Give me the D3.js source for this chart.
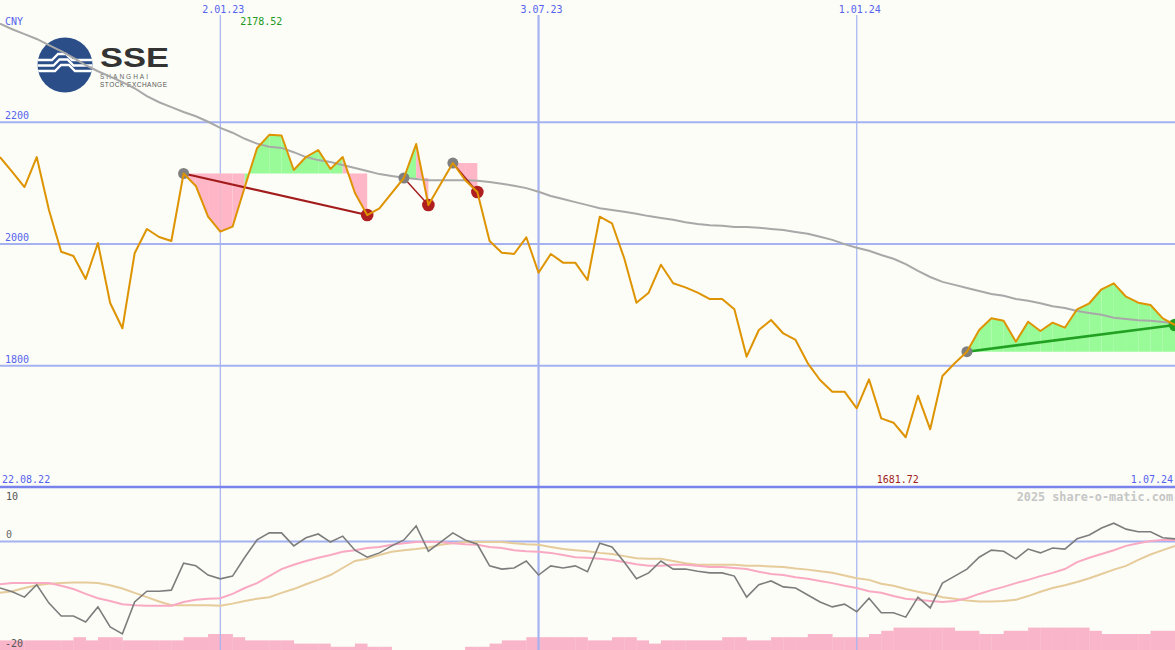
<!DOCTYPE html>
<html><head><meta charset="utf-8">
<script src="https://cdn.jsdelivr.net/npm/d3@7"></script>
<style>html,body{margin:0;padding:0;background:#fcfdf7;}svg{display:block}</style>
</head><body><svg id="c" width="1175" height="650"></svg>
<script>
// ---------- data ----------
const startDate = "2022-08-29";
const endDate = "2024-07-01";
const price = [2142,2117.5,2092.8,2142,2055,1986.5,1979.5,1941.7,2000.8,1902.3,
1860.7,1983.9,2023.8,2010.7,2004.1,2115,2094.5,2044,2019.4,2027.6,
2092.8,2156.4,2178.52,2177.4,2120.7,2142,2153.6,2122.4,2142,2082.9,
2046.8,2057.8,2082.9,2107.6,2163.4,2063.2,2097.7,2132.2,2104.3,2084.6,
2004.1,1984.9,1982.8,2010.2,1952,1982.8,1968.5,1968.5,1940,2044,
2033.2,1975.7,1902.8,1919.2,1965.2,1934.6,1928,1919.2,1908.8,1908.8,
1891.9,1814.1,1857.9,1874.3,1852.2,1841.5,1803.2,1775.8,1756.6,1756.6,
1729.3,1776.9,1712.8,1705.6,1681.72,1750,1694.8,1782.3,1803.2,1822.3,
1857.9,1877.1,1873.2,1838.7,1871.5,1856.3,1869.9,1861.7,1891.9,1901.8,
1924.8,1934.6,1912.6,1902.8,1899,1877.1,1866.1];
const movingAvg = [2361,2352,2344,2336,2326,2316,2305,2293,2283,2274,
2265,2255,2242,2232,2224,2216,2209,2200,2190,2182,
2172,2164,2159,2157,2150,2142,2137,2134,2129,2124,
2119,2114,2111,2108,2106,2104,2104,2104,2104,2103,
2101,2098,2095,2091,2085,2078,2073,2068,2063,2058,
2055,2052,2049,2045,2042,2039,2035,2032,2030,2029,
2027,2027,2026,2024,2022,2019,2016,2011,2006,1999,
1993,1988,1981,1975,1966,1955,1945,1937,1932,1927,
1922,1917,1914,1909,1906,1902,1897,1894,1889,1886,
1883,1878,1876,1874,1873,1871,1869];
const momentum = [-8.7,-9.4,-10.4,-8.1,-11.5,-13.9,-13.9,-15.0,-12.2,-15.9,
-17.2,-11.3,-9.3,-9.3,-9.1,-4.1,-4.6,-6.3,-7.0,-6.5,
-3.0,0.2,1.5,1.5,-0.9,0.6,1.3,-0.2,0.9,-1.7,
-3.0,-2.2,-0.9,0.2,2.8,-1.9,-0.2,1.5,0.2,-0.6,
-4.6,-5.2,-5.0,-3.7,-6.3,-4.6,-5.0,-4.6,-5.7,-0.4,
-1.1,-3.9,-7.0,-5.9,-3.7,-5.2,-5.2,-5.6,-5.9,-5.9,
-6.5,-10.4,-8.1,-7.4,-8.5,-8.7,-10.0,-11.3,-12.2,-11.7,
-13.1,-10.6,-13.3,-13.3,-14.1,-10.4,-12.4,-7.8,-6.5,-5.2,
-3.0,-1.7,-1.9,-3.3,-1.5,-2.2,-1.3,-1.5,0.4,1.1,
2.4,3.3,2.2,1.7,1.7,0.6,0.4];
const momentumFast = [-8.0,-7.8,-7.8,-7.8,-7.8,-8.3,-8.9,-9.8,-10.6,-11.1,
-11.7,-11.9,-12.0,-12.0,-12.0,-11.3,-10.9,-10.7,-10.6,-9.8,
-8.7,-7.8,-6.5,-5.2,-4.4,-3.7,-3.1,-2.6,-2.0,-1.7,
-1.3,-1.1,-0.7,-0.4,-0.2,-0.2,-0.2,-0.4,-0.6,-0.7,
-1.1,-1.3,-1.7,-1.9,-2.0,-2.2,-2.6,-3.0,-3.1,-3.3,
-3.5,-3.9,-4.3,-4.6,-4.6,-4.4,-4.4,-4.6,-4.8,-4.8,
-5.0,-5.2,-5.7,-6.1,-6.3,-6.7,-7.0,-7.4,-7.8,-8.3,
-8.7,-9.3,-9.6,-10.2,-10.7,-10.9,-11.1,-11.3,-11.1,-10.6,
-9.8,-9.1,-8.5,-7.8,-7.2,-6.5,-5.9,-5.2,-3.9,-3.1,
-2.4,-1.7,-0.9,-0.4,0.0,0.2,0.2];
const momentumSlow = [-9.6,-9.3,-8.7,-8.2,-7.9,-7.8,-7.7,-7.7,-7.8,-8.2,
-8.8,-9.6,-10.4,-11.2,-11.9,-11.9,-11.9,-11.9,-12.0,-11.6,
-11.1,-10.7,-10.4,-9.6,-8.9,-8.0,-7.2,-6.3,-5.0,-3.7,
-3.3,-2.6,-2.0,-1.7,-1.5,-1.2,-0.7,-0.4,-0.2,-0.2,
-0.2,-0.2,-0.4,-0.6,-0.7,-1.1,-1.5,-1.7,-1.9,-2.2,
-2.4,-2.8,-3.2,-3.3,-3.3,-3.7,-4.1,-4.4,-4.4,-4.4,
-4.4,-4.6,-4.6,-4.7,-4.8,-5.1,-5.3,-5.6,-5.9,-6.4,
-6.9,-7.2,-7.9,-8.3,-8.9,-9.4,-9.8,-10.4,-10.7,-11.0,
-11.2,-11.2,-11.1,-10.9,-10.2,-9.4,-8.7,-8.2,-7.6,-6.9,
-6.1,-5.3,-4.6,-3.5,-2.5,-1.7,-0.9];
const volumeBars = [3,3,3,3,3,3,4,3,4,4, 3,3,3,3,3,4,4,5,5,4,
3,3,3,3,2,2,2,1,1,2, 1,1,0,0,0,0,0,0,1,1,
2,3,3,4,4,4,4,4,3,3, 4,4,3,2,3,3,3,3,3,4,
4,3,3,4,4,4,5,5,4,4, 4,5,6,7,7,7,7,7,6,6,
5,5,6,6,7,7,7,7,7,6, 5,5,5,5,6,6];
const priceTicks = [1800, 2000, 2200];
const momentumTicks = [10, 0, -20];
const dateTicks = ["2023-01-02", "2023-07-03", "2024-01-01"];
const edgeLabels = ["22.08.22", "1.07.24"];
const maxLabel = "2178.52";
const minLabel = "1681.72";
// pattern: start pivot index, end index, kind
const patterns = [
  {from: 15, to: 30, kind: "down", w: 2.2},
  {from: 33, to: 35, kind: "down", w: 1.4},
  {from: 37, to: 39, kind: "down", w: 1.4},
  {from: 79, to: 96, kind: "up", w: 2.6}
];

// ---------- setup ----------
const W = 1175, H = 650;
const svg = d3.select("#c");
const defs = svg.append("defs");
svg.append("rect").attr("width", W).attr("height", H).attr("fill", "#fcfdf7");

const dates = d3.utcMonday.range(new Date(startDate), d3.utcDay.offset(new Date(endDate), 1));
const x = d3.scaleUtc().domain([new Date(startDate), new Date(endDate)]).range([0, W]);
const yP = d3.scaleLinear().domain([1600, 2400]).range([487, 0]);
const yM = d3.scaleLinear().domain([-20, 10]).range([649, 487]);
const hB = d3.scaleLinear().domain([0, 7]).range([0, 22.4]);
const xi = i => x(dates[i]);

const mono = "'DejaVu Sans Mono', monospace";
const blue = "#5563ee";
const gridC = "#a4b2f2";

// ---------- volume bars ----------
svg.append("g").selectAll("rect").data(volumeBars).join("rect")
  .attr("x", (d, i) => xi(i)).attr("width", (d, i) => xi(i + 1) - xi(i) + 0.3)
  .attr("y", d => H - hB(d)).attr("height", d => hB(d))
  .attr("fill", "#f9b5c9");

// ---------- grid ----------
svg.append("g").call(d3.axisRight(yP).tickValues(priceTicks).tickSize(W).tickFormat(""))
  .call(g => g.select(".domain").remove())
  .call(g => g.selectAll("line").attr("stroke", gridC).attr("stroke-width", 2));
svg.append("g").call(d3.axisRight(yM).tickValues([0]).tickSize(W).tickFormat(""))
  .call(g => g.select(".domain").remove())
  .call(g => g.selectAll("line").attr("stroke", gridC).attr("stroke-width", 2));
svg.append("g").selectAll("line").data(dateTicks).join("line")
  .attr("x1", d => x(new Date(d))).attr("x2", d => x(new Date(d)))
  .attr("y1", 15).attr("y2", H)
  .attr("stroke", gridC).attr("stroke-width", (d, i) => i === 1 ? 2.2 : 1.2);
svg.append("line").attr("x1", 0).attr("x2", W).attr("y1", yP(1600)).attr("y2", yP(1600))
  .attr("stroke", "#7884ec").attr("stroke-width", 2.4);

// ---------- logo ----------
const logo = svg.append("g");
logo.append("circle").attr("cx", 65).attr("cy", 65).attr("r", 27.5).attr("fill", "#2b4e89");
defs.append("clipPath").attr("id", "lc").append("circle").attr("cx", 65).attr("cy", 65).attr("r", 27.5);
const st = logo.append("g").attr("clip-path", "url(#lc)").attr("stroke", "#fff").attr("fill", "none").attr("stroke-width", 2.3);
[0, 1, 2].forEach(k => {
  const yy = 60 + k * 5.5;
  st.append("path").attr("d", `M30,${yy} H${52 + k * 1.5} L${58 + k * 1.5},${yy - 6} H${66 + k * 1.5} L${72 + k * 1.5},${yy} H100`);
});
logo.append("text").attr("x", 100).attr("y", 67).attr("textLength", 69).attr("lengthAdjust", "spacingAndGlyphs")
  .attr("font-family", "'Liberation Sans', Arial, sans-serif").attr("font-weight", "bold").attr("font-size", 28)
  .attr("fill", "#333").text("SSE");
logo.append("text").attr("x", 100).attr("y", 79).attr("textLength", 48)
  .attr("font-family", "'Liberation Sans', Arial, sans-serif").attr("font-size", 6.5)
  .attr("fill", "#666").text("SHANGHAI");
logo.append("text").attr("x", 100).attr("y", 86.8).attr("textLength", 67)
  .attr("font-family", "'Liberation Sans', Arial, sans-serif").attr("font-size", 6.5)
  .attr("fill", "#555").text("STOCK EXCHANGE");

// ---------- pattern fills ----------
const segArea = lvl => d3.area().x(j => xi(j)).y0(yP(lvl)).y1(j => yP(price[j]));
patterns.forEach(p => {
  const lvl = price[p.from];
  for (let i = p.from; i < p.to; i++) {
    const up = price[i + 1] >= lvl;
    svg.append("path").datum([i, i + 1]).attr("d", segArea(lvl))
      .attr("fill", up ? "#98fb98" : "#ffb6c6");
  }
});

// ---------- moving average (main) ----------
const idx = d3.range(price.length);
svg.append("path").datum(idx)
  .attr("d", d3.line().x(i => xi(i)).y(i => yP(movingAvg[i])))
  .attr("fill", "none").attr("stroke", "#a8a8a8").attr("stroke-width", 2);

// ---------- pattern lines & dots ----------
patterns.forEach(p => {
  svg.append("line")
    .attr("x1", xi(p.from)).attr("y1", yP(price[p.from]))
    .attr("x2", xi(p.to)).attr("y2", yP(price[p.to]))
    .attr("stroke", p.kind === "up" ? "#22a022" : "#a31c1c").attr("stroke-width", p.w);
  svg.append("circle").attr("cx", xi(p.from)).attr("cy", yP(price[p.from])).attr("r", 5.5).attr("fill", "#808080");
  svg.append("circle").attr("cx", xi(p.to)).attr("cy", yP(price[p.to])).attr("r", 6.3)
    .attr("fill", p.kind === "up" ? "#22a022" : "#b01f1f");
});

// ---------- price ----------
svg.append("path").datum(idx)
  .attr("d", d3.line().x(i => xi(i)).y(i => yP(price[i])))
  .attr("fill", "none").attr("stroke", "#de9300").attr("stroke-width", 2).attr("stroke-linejoin", "round");

// ---------- lower panel lines ----------
const lowLine = arr => d3.line().x(i => xi(i)).y(i => yM(arr[i]));
svg.append("path").datum(idx).attr("d", lowLine(momentumSlow))
  .attr("fill", "none").attr("stroke", "#e6cb9b").attr("stroke-width", 2);
svg.append("path").datum(idx).attr("d", lowLine(momentumFast))
  .attr("fill", "none").attr("stroke", "#f9a9c3").attr("stroke-width", 2);
svg.append("path").datum(idx).attr("d", lowLine(momentum))
  .attr("fill", "none").attr("stroke", "#7d7d7d").attr("stroke-width", 1.6);

// ---------- texts ----------
const txt = (s, xx, yy, col, anchor, size, weight) => svg.append("text")
  .attr("x", xx).attr("y", yy).attr("fill", col).attr("text-anchor", anchor || "start")
  .attr("font-family", mono).attr("font-size", size || 10).attr("font-weight", weight || "normal").text(s);

txt("CNY", 5, 25, blue);
priceTicks.forEach(t => txt(String(t), 5, yP(t) - 2.5, blue));
const fmt = d3.utcFormat("%-d.%m.%y");
dateTicks.forEach(d => txt(fmt(new Date(d)), x(new Date(d)) + 3, 12.5, blue, "middle"));
txt(edgeLabels[0], 2, 483, blue);
txt(edgeLabels[1], 1173, 483, blue, "end");
const iMax = price.indexOf(d3.max(price));
const iMin = price.indexOf(d3.min(price));
txt(maxLabel, xi(iMax) - 8, 25, "#229a22", "middle");
txt(minLabel, xi(iMin) - 8, 483, "#a01c1c", "middle");
txt("2025 share-o-matic.com", 1173, 500.5, "#c6c6c6", "end", 11.8, "bold");
txt(String(momentumTicks[0]), 6, 500, "#555");
txt(String(momentumTicks[1]), 6, yM(0) - 3, "#666");
txt(String(momentumTicks[2]), 5, 647, "#555");
</script></body></html>
